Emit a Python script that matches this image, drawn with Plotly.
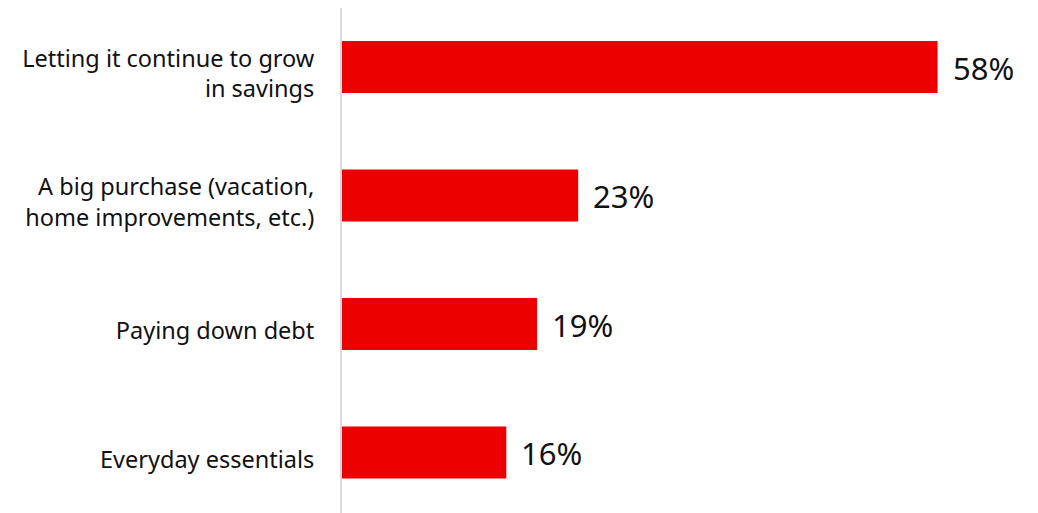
import plotly.graph_objects as go

categories = ["Letting it continue to grow<br>in savings",
              "A big purchase (vacation,<br>home improvements, etc.)",
              "Paying down debt",
              "Everyday essentials"]
values = [58, 23, 19, 16]
labels = ["58%", "23%", "19%", "16%"]

FONT = "Noto Sans"
fig = go.Figure(go.Bar(
    x=values, y=categories, orientation="h",
    marker=dict(color="#EC0000", line=dict(width=0)),
    width=0.405, hoverinfo="skip",
))
for v, c, t in zip(values, categories, labels):
    fig.add_annotation(x=v, y=c, text=t, showarrow=False, xanchor="left",
                       xshift=13, yshift=-1,
                       font=dict(family=FONT, size=31, color="#111111"))

fig.update_layout(
    width=1030, height=505,
    margin=dict(l=334, r=8, t=0, b=0),
    paper_bgcolor="white", plot_bgcolor="white",
    showlegend=False,
    xaxis=dict(range=[0, 67], visible=False),
    yaxis=dict(autorange=False, range=[3.471, -0.459], showline=True,
               linecolor="#d9d9d9", linewidth=2, showgrid=False, ticks="",
               ticklabelstandoff=21, ticklabelshift=-7,
               tickfont=dict(family=FONT, size=23.5, color="#111111")),
)
fig.write_html("out.html")
